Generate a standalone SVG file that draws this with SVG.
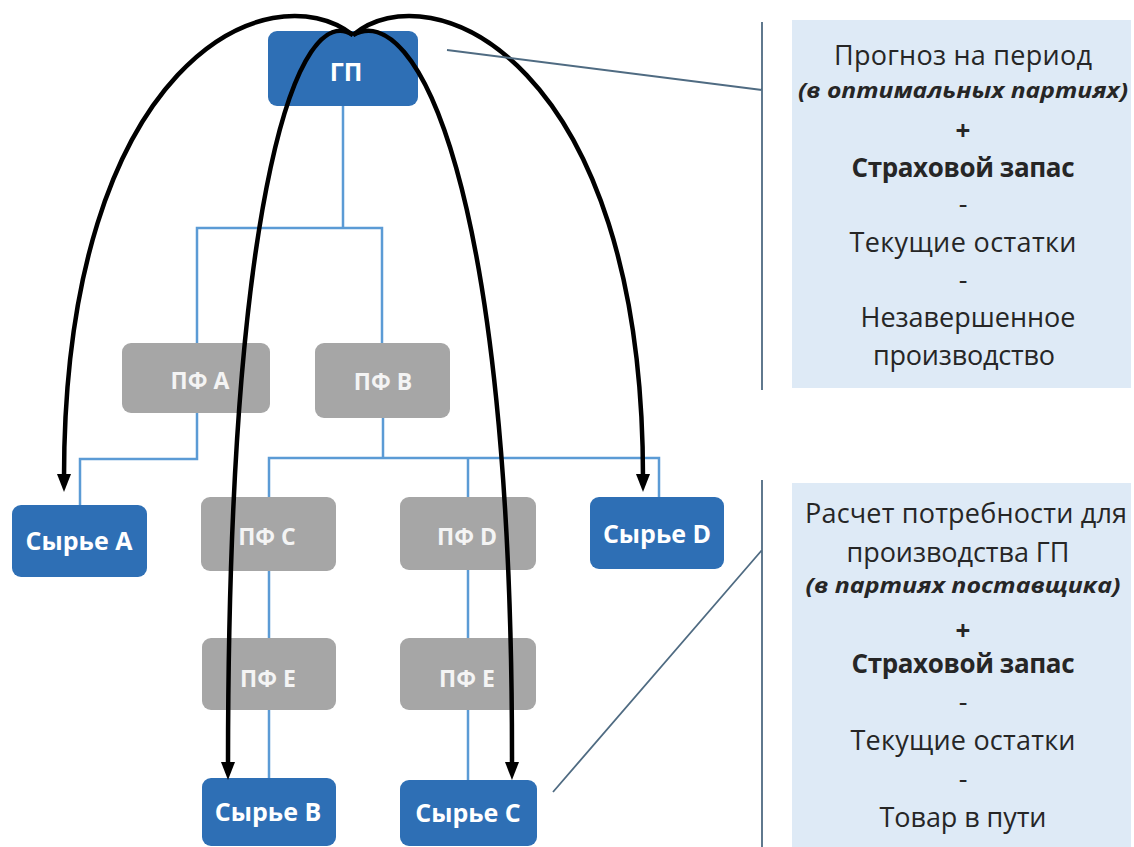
<svg xmlns="http://www.w3.org/2000/svg" width="1134" height="847" viewBox="0 0 1134 847">
  <defs>
    <marker id="arrow" markerUnits="userSpaceOnUse" markerWidth="18" markerHeight="14" refX="4" refY="7" orient="auto">
      <path d="M0,0 L18,7 L0,14 z" fill="#000"/>
    </marker>
    <style>
      .blue { fill: #2e6fb5; }
      .gray { fill: #a6a6a6; }
      .ntext { font-family: "Open Sans", "Noto Sans", sans-serif; font-weight: 700; font-size: 25px; fill: #ffffff; text-anchor: middle; }
      .gtext { font-family: "Open Sans", "Noto Sans", sans-serif; font-weight: 700; font-size: 23px; fill: #f4f4f4; text-anchor: middle; }
      .tree { fill: none; stroke: #5b9bd5; stroke-width: 2.5; }
      .callout { fill: none; stroke: #4f6b82; stroke-width: 1.8; }
      .flow { fill: none; stroke: #000; stroke-width: 4.5; marker-end: url(#arrow); }
      .panel { fill: #deeaf6; }
      .ptext { font-family: "Open Sans", "Noto Sans", sans-serif; font-size: 27px; fill: #262626; text-anchor: middle; }
      .pbold { font-weight: 700; font-size: 26px; }
      .pital { font-style: italic; font-weight: 700; font-size: 22px; }
    </style>
  </defs>

  <rect width="1134" height="847" fill="#ffffff"/>

  <!-- tree connectors -->
  <g id="tree-links">
    <path class="tree" d="M343,106 V228 M197,343 V228 H382 V343"/>
    <path class="tree" d="M197,413 V459 H80 V505"/>
    <path class="tree" d="M383,418 V458 M269,497 V458 H659 V497 M468,458 V497"/>
    <path class="tree" d="M269,571 V638 M269,710 V778"/>
    <path class="tree" d="M468,570 V638 M468,710 V780"/>
  </g>

  <!-- nodes -->
  <g id="node-gp">
    <rect class="blue" x="268" y="31" width="150" height="75" rx="9"/>
    <text class="ntext" x="346" y="81" font-size="28">ГП</text>
  </g>
  <g id="node-pf-a">
    <rect class="gray" x="122" y="343" width="148" height="70" rx="9"/>
    <text class="gtext" x="200" y="389">ПФ А</text>
  </g>
  <g id="node-pf-b">
    <rect class="gray" x="315" y="343" width="135" height="75" rx="9"/>
    <text class="gtext" x="383" y="390">ПФ В</text>
  </g>
  <g id="node-raw-a">
    <rect class="blue" x="12" y="505" width="135" height="72" rx="9"/>
    <text class="ntext" x="79" y="550">Сырье А</text>
  </g>
  <g id="node-pf-c">
    <rect class="gray" x="201" y="497" width="135" height="74" rx="9"/>
    <text class="gtext" x="267" y="545">ПФ С</text>
  </g>
  <g id="node-pf-d">
    <rect class="gray" x="400" y="497" width="136" height="73" rx="9"/>
    <text class="gtext" x="467" y="545">ПФ D</text>
  </g>
  <g id="node-raw-d">
    <rect class="blue" x="590" y="497" width="134" height="72" rx="9"/>
    <text class="ntext" x="657" y="543">Сырье D</text>
  </g>
  <g id="node-pf-e1">
    <rect class="gray" x="202" y="638" width="134" height="72" rx="9"/>
    <text class="gtext" x="268" y="687">ПФ Е</text>
  </g>
  <g id="node-pf-e2">
    <rect class="gray" x="400" y="638" width="136" height="72" rx="9"/>
    <text class="gtext" x="467" y="687">ПФ Е</text>
  </g>
  <g id="node-raw-b">
    <rect class="blue" x="202" y="778" width="134" height="68" rx="9"/>
    <text class="ntext" x="268" y="821">Сырье В</text>
  </g>
  <g id="node-raw-c">
    <rect class="blue" x="400" y="780" width="137" height="66" rx="9"/>
    <text class="ntext" x="468" y="822">Сырье С</text>
  </g>

  <!-- black demand arrows from ГП -->
  <g id="flows">
    <path class="flow" d="M353,35 C270,-30 64,60 64,478"/>
    <path class="flow" d="M353,35 C300,0 228,180 228,766"/>
    <path class="flow" d="M353,35 C415,0 513,180 512,766"/>
    <path class="flow" d="M353,35 C430,-30 643,60 643,478"/>
  </g>

  <!-- callout brackets -->
  <g id="callouts">
    <path class="callout" d="M447,50 L762,90 M762,22 V390"/>
    <path class="callout" d="M553,792 L762,550 M762,480 V847"/>
  </g>

  <!-- formula panels -->
  <g id="panel-gp">
    <rect class="panel" x="792" y="20" width="339" height="368"/>
    <text class="ptext" x="963" y="65" textLength="258">Прогноз на период</text>
    <text class="ptext pital" x="963" y="98" textLength="330" lengthAdjust="spacingAndGlyphs">(в оптимальных партиях)</text>
    <text class="ptext pbold" x="963" y="140">+</text>
    <text class="ptext pbold" x="963" y="177" textLength="223">Страховой запас</text>
    <text class="ptext" x="963" y="213">-</text>
    <text class="ptext" x="963" y="252" textLength="227">Текущие остатки</text>
    <text class="ptext" x="963" y="289">-</text>
    <text class="ptext" x="968" y="327" textLength="215">Незавершенное</text>
    <text class="ptext" x="964" y="365" textLength="182">производство</text>
  </g>
  <g id="panel-raw">
    <rect class="panel" x="792" y="483" width="339" height="364"/>
    <text class="ptext" x="966" y="523" textLength="322">Расчет потребности для</text>
    <text class="ptext" x="958" y="562" textLength="223">производства ГП</text>
    <text class="ptext pital" x="963" y="593" textLength="315" lengthAdjust="spacingAndGlyphs">(в партиях поставщика)</text>
    <text class="ptext pbold" x="963" y="640">+</text>
    <text class="ptext pbold" x="963" y="673" textLength="223">Страховой запас</text>
    <text class="ptext" x="963" y="711">-</text>
    <text class="ptext" x="963" y="750" textLength="225">Текущие остатки</text>
    <text class="ptext" x="963" y="788">-</text>
    <text class="ptext" x="963" y="827" textLength="167">Товар в пути</text>
  </g>
</svg>
